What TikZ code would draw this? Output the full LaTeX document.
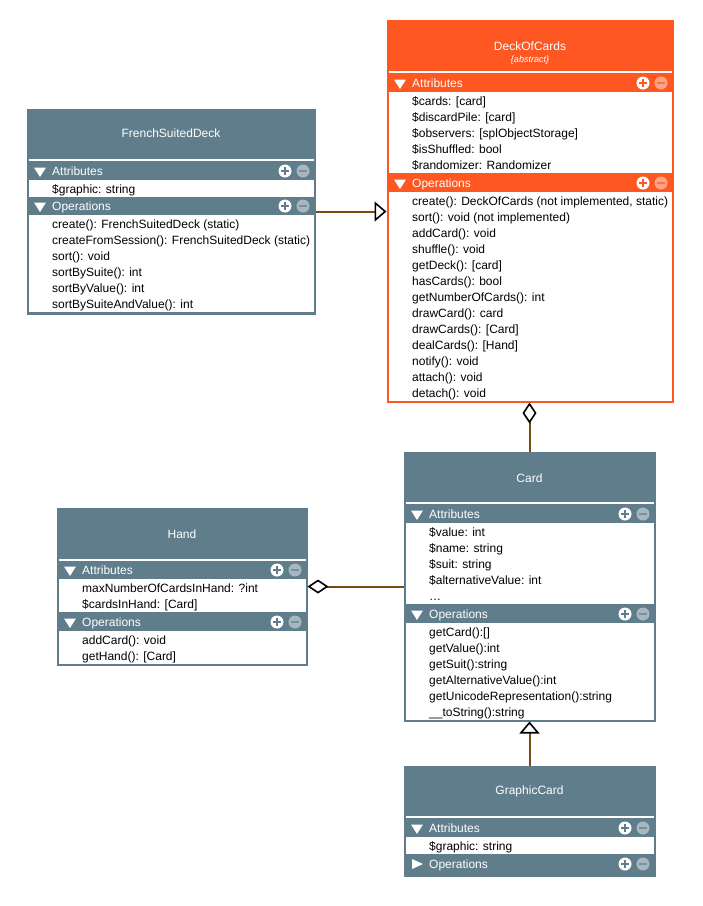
\documentclass[tikz,border=0pt]{standalone}
\usepackage{fontspec}
\setmainfont{Liberation Sans}
\usetikzlibrary{arrows.meta}
\definecolor{slate}{HTML}{607D8B}
\definecolor{deckorange}{HTML}{FF5722}
\definecolor{linkbrown}{HTML}{7A4A12}
\colorlet{cur}{slate}
\tikzset{
  classbox/.style={draw=cur, fill=cur, line width=1pt, inner sep=0pt},
  classtitle/.style={text=white, inner sep=0pt, font=\fontsize{12}{14}\selectfont},
  barlabel/.style={anchor=west, inner sep=0pt, text=white, text height=10.5pt, text depth=2pt, font=\fontsize{12}{14}\selectfont},
  member/.style={anchor=west, inner sep=0pt, text height=10.5pt, text depth=2pt, font=\fontsize{12}{14}\selectfont},
  addicon/.style={circle, fill=white, minimum size=13pt, inner sep=0pt,
    path picture={\draw[cur, line width=2pt]
      ([xshift=-4pt]path picture bounding box.center) -- ([xshift=4pt]path picture bounding box.center)
      ([yshift=-4pt]path picture bounding box.center) -- ([yshift=4pt]path picture bounding box.center);}},
  delicon/.style={circle, fill=white!45!cur, minimum size=13pt, inner sep=0pt,
    path picture={\draw[cur!85!white, line width=2pt]
      ([xshift=-4pt]path picture bounding box.center) -- ([xshift=4pt]path picture bounding box.center);}},
  link/.style={draw=linkbrown, line width=2pt},
  inherit/.tip={Triangle[open, length=12pt, width=20pt, color=black, line width=1.6pt]},
  aggr/.tip={Diamond[open, length=21pt, width=14pt, color=black, line width=1.6pt]},
  pics/triopen/.style={code={\fill[white] (7,5.5) -- (19,5.5) -- (13,15) -- cycle;}},
  pics/trishut/.style={code={\fill[white] (8,4) -- (8,14) -- (19,9) -- cycle;}},
}
% section bar: [triangle]{name}{left}{right}{bar top}{label}
\newcommand{\secbar}[6][triopen]{%
  \pic at (#3,#5) {#1};
  \node[barlabel] (#2) at (#3+25,#5+9) {#6};
  \node[addicon] (#2-add) at (#4-30,#5+9) {};
  \node[delicon] (#2-del) at (#4-12,#5+9) {};
}
% members: {name}{left}{right}{top}{rows}{list}
\newcommand{\members}[6]{%
  \fill[white] (#2+1.5,#4) rectangle (#3-1.5,#4+16*#5+1);
  \foreach \m [count=\i] in {#6}
    \node[member] (#1-\i) at (#2+25,#4+16*\i-7) {\m};
}

\begin{document}
\begin{tikzpicture}[x=1pt, y=-1pt]
\useasboundingbox (0,0) rectangle (703,906);

% FrenchSuitedDeck
\colorlet{cur}{slate}
\node[classbox, minimum width=288pt, minimum height=205pt] (fsd) at (171,211.5) {};
\node[classtitle] (fsd-title) at (171,133) {FrenchSuitedDeck};
\draw[white, line width=1.5pt] (28.5,160) -- (313.5,160);
\secbar{fsd-attr}{27}{315}{162}{Attributes}
\members{fsd-a}{27}{315}{180}{1}{\$graphic: string}
\secbar{fsd-ops}{27}{315}{197}{Operations}
\members{fsd-o}{27}{315}{215}{6}{create(): FrenchSuitedDeck (static), createFromSession(): FrenchSuitedDeck (static), sort(): void, sortBySuite(): int, sortByValue(): int, sortBySuiteAndValue(): int}

% DeckOfCards
\colorlet{cur}{deckorange}
\node[classbox, minimum width=286pt, minimum height=382pt] (deck) at (530,211) {};
\node[classtitle] (deck-title) at (530,46) {DeckOfCards};
\node[classtitle, font=\fontsize{9}{10}\selectfont\itshape] (deck-stereo) at (530,60) {\{abstract\}};
\draw[white, line width=1.5pt] (388.5,72) -- (671.5,72);
\secbar{deck-attr}{387}{673}{74}{Attributes}
\members{deck-a}{387}{673}{92}{5}{\$cards: [card], \$discardPile: [card], \$observers: [splObjectStorage], \$isShuffled: bool, \$randomizer: Randomizer}
\secbar{deck-ops}{387}{673}{174}{Operations}
\members{deck-o}{387}{673}{192}{13}{{create(): DeckOfCards (not implemented, static)}, sort(): void (not implemented), addCard(): void, shuffle(): void, getDeck(): [card], hasCards(): bool, getNumberOfCards(): int, drawCard(): card, drawCards(): [Card], dealCards(): [Hand], notify(): void, attach(): void, detach(): void}

% Card
\colorlet{cur}{slate}
\node[classbox, minimum width=251pt, minimum height=269pt] (card) at (529.5,586.5) {};
\node[classtitle] (card-title) at (529.5,478) {Card};
\draw[white, line width=1.5pt] (405.5,503) -- (653.5,503);
\secbar{card-attr}{404}{655}{505}{Attributes}
\members{card-a}{404}{655}{523}{5}{\$value: int, \$name: string, \$suit: string, \$alternativeValue: int, \ldots}
\secbar{card-ops}{404}{655}{605}{Operations}
\members{card-o}{404}{655}{623}{6}{getCard():[], getValue():int, getSuit():string, getAlternativeValue():int, getUnicodeRepresentation():string, \_\_toString():string}

% Hand
\node[classbox, minimum width=250pt, minimum height=157pt] (hand) at (182,586.5) {};
\node[classtitle] (hand-title) at (182,534) {Hand};
\draw[white, line width=1.5pt] (58.5,560) -- (305.5,560);
\secbar{hand-attr}{57}{307}{561}{Attributes}
\members{hand-a}{57}{307}{579}{2}{maxNumberOfCardsInHand: ?int, \$cardsInHand: [Card]}
\secbar{hand-ops}{57}{307}{613}{Operations}
\members{hand-o}{57}{307}{631}{2}{addCard(): void, getHand(): [Card]}

% GraphicCard
\node[classbox, minimum width=251pt, minimum height=110pt] (gcard) at (529.5,821) {};
\node[classtitle] (gcard-title) at (529.5,791) {GraphicCard};
\draw[white, line width=1.5pt] (405.5,817) -- (653.5,817);
\secbar{gcard-attr}{404}{655}{819}{Attributes}
\members{gcard-a}{404}{655}{837}{1}{\$graphic: string}
\secbar[trishut]{gcard-ops}{404}{655}{855}{Operations}

% connectors
\draw[link, -inherit] (fsd.east) -- (fsd.east -| deck.west);
\draw[link, -aggr] (card.north) -- (card.north |- deck.south);
\draw[link, -aggr] (card.west |- hand.east) -- (hand.east);
\draw[link, -inherit] (gcard.north) -- (card.south);
\end{tikzpicture}
\end{document}
